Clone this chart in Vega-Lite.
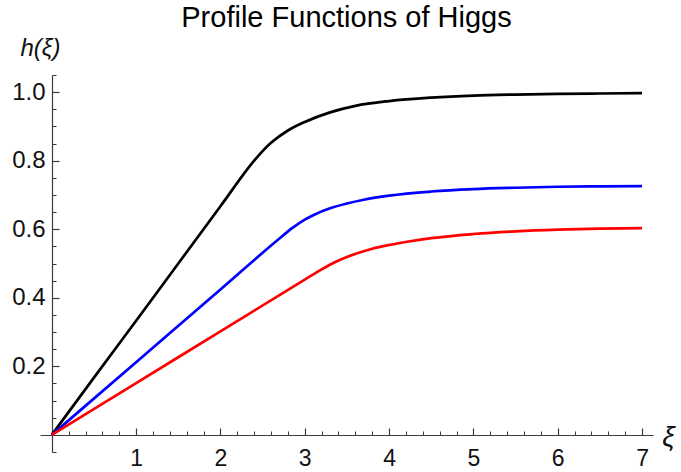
{
  "$schema": "https://vega.github.io/schema/vega-lite/v6.json",
  "width": 613,
  "height": 377,
  "autosize": "none",
  "padding": {"left": 40, "top": 75, "right": 28, "bottom": 20},
  "background": "white",
  "config": {"view": {"stroke": null}, "font": "Liberation Sans"},
  "title": {
    "text": "Profile Functions of Higgs",
    "fontSize": 29,
    "font": "Liberation Sans",
    "fontWeight": "normal",
    "color": "#000000",
    "anchor": "middle",
    "offset": 3
  },
  "data": {
    "values": [
      {"xi": 0, "h": 0, "s": "k"},
      {"xi": 0.5, "h": 0.167, "s": "k"},
      {"xi": 1, "h": 0.333, "s": "k"},
      {"xi": 1.5, "h": 0.5, "s": "k"},
      {"xi": 2, "h": 0.667, "s": "k"},
      {"xi": 2.4, "h": 0.8, "s": "k"},
      {"xi": 2.5, "h": 0.828, "s": "k"},
      {"xi": 2.6, "h": 0.852, "s": "k"},
      {"xi": 2.8, "h": 0.888, "s": "k"},
      {"xi": 3.0, "h": 0.913, "s": "k"},
      {"xi": 3.3, "h": 0.941, "s": "k"},
      {"xi": 3.6, "h": 0.96, "s": "k"},
      {"xi": 4.0, "h": 0.974, "s": "k"},
      {"xi": 4.5, "h": 0.984, "s": "k"},
      {"xi": 5.0, "h": 0.99, "s": "k"},
      {"xi": 5.5, "h": 0.993, "s": "k"},
      {"xi": 6.0, "h": 0.995, "s": "k"},
      {"xi": 6.5, "h": 0.996, "s": "k"},
      {"xi": 7.0, "h": 0.997, "s": "k"},
      {"xi": 0, "h": 0, "s": "b"},
      {"xi": 1, "h": 0.212, "s": "b"},
      {"xi": 2, "h": 0.424, "s": "b"},
      {"xi": 2.7, "h": 0.573, "s": "b"},
      {"xi": 2.85, "h": 0.603, "s": "b"},
      {"xi": 3.0, "h": 0.628, "s": "b"},
      {"xi": 3.1, "h": 0.641, "s": "b"},
      {"xi": 3.3, "h": 0.661, "s": "b"},
      {"xi": 3.5, "h": 0.675, "s": "b"},
      {"xi": 3.7, "h": 0.686, "s": "b"},
      {"xi": 4.0, "h": 0.698, "s": "b"},
      {"xi": 4.5, "h": 0.71, "s": "b"},
      {"xi": 5.0, "h": 0.717, "s": "b"},
      {"xi": 5.5, "h": 0.721, "s": "b"},
      {"xi": 6.0, "h": 0.724, "s": "b"},
      {"xi": 6.5, "h": 0.725, "s": "b"},
      {"xi": 7.0, "h": 0.726, "s": "b"},
      {"xi": 0, "h": 0, "s": "r"},
      {"xi": 1, "h": 0.151, "s": "r"},
      {"xi": 2, "h": 0.302, "s": "r"},
      {"xi": 3, "h": 0.453, "s": "r"},
      {"xi": 3.2, "h": 0.483, "s": "r"},
      {"xi": 3.35, "h": 0.503, "s": "r"},
      {"xi": 3.5, "h": 0.519, "s": "r"},
      {"xi": 3.65, "h": 0.532, "s": "r"},
      {"xi": 3.8, "h": 0.543, "s": "r"},
      {"xi": 4.0, "h": 0.554, "s": "r"},
      {"xi": 4.25, "h": 0.565, "s": "r"},
      {"xi": 4.5, "h": 0.574, "s": "r"},
      {"xi": 5.0, "h": 0.586, "s": "r"},
      {"xi": 5.5, "h": 0.594, "s": "r"},
      {"xi": 6.0, "h": 0.599, "s": "r"},
      {"xi": 6.5, "h": 0.602, "s": "r"},
      {"xi": 7.0, "h": 0.603, "s": "r"}
    ]
  },
  "layer": [
    {
      "mark": {"type": "line", "strokeWidth": 2.7, "interpolate": "monotone"},
      "encoding": {
        "x": {
          "field": "xi",
          "type": "quantitative",
          "scale": {"domain": [-0.14, 7.13], "nice": false, "zero": false},
          "axis": {
            "orient": "bottom",
            "offset": -17,
            "values": [1, 2, 3, 4, 5, 6, 7],
            "format": "d",
            "grid": false,
            "domainColor": "#3c3c3c",
            "domainWidth": 1.2,
            "tickColor": "#3c3c3c",
            "tickWidth": 1.2,
            "tickSize": -7,
            "labelPadding": 19,
            "labelFontSize": 23,
            "labelColor": "#111111",
            "labelFont": "Liberation Sans",
            "labelFlush": false,
            "labelOverlap": false,
            "title": "ξ",
            "titleFontSize": 28,
            "titleFontStyle": "italic",
            "titleFontWeight": "normal",
            "titleFont": "Liberation Sans",
            "titleColor": "#111111",
            "titleX": 628,
            "titleY": 2,
            "titleAlign": "center",
            "titleBaseline": "middle",
            "titleAngle": 0
          }
        },
        "y": {
          "field": "h",
          "type": "quantitative",
          "scale": {"domain": [-0.05, 1.05], "nice": false, "zero": false},
          "axis": {
            "orient": "left",
            "offset": -12,
            "values": [0.2, 0.4, 0.6, 0.8, 1.0],
            "format": ".1f",
            "grid": false,
            "domainColor": "#3c3c3c",
            "domainWidth": 1.2,
            "tickColor": "#3c3c3c",
            "tickWidth": 1.2,
            "tickSize": -7,
            "labelPadding": 14,
            "labelFontSize": 24,
            "labelColor": "#111111",
            "labelFont": "Liberation Sans",
            "labelFlush": false,
            "labelOverlap": false,
            "title": "h(ξ)",
            "titleFontSize": 24,
            "titleFontStyle": "italic",
            "titleFontWeight": "normal",
            "titleFont": "Liberation Sans",
            "titleColor": "#111111",
            "titleX": -12,
            "titleY": -27,
            "titleAlign": "center",
            "titleBaseline": "middle",
            "titleAngle": 0
          }
        },
        "color": {
          "field": "s",
          "type": "nominal",
          "scale": {"domain": ["k", "b", "r"], "range": ["#000000", "#0000ff", "#ff0000"]},
          "legend": null
        }
      }
    },
    {
      "mark": {"type": "line", "opacity": 0},
      "encoding": {
        "x": {
          "field": "xi",
          "type": "quantitative",
          "axis": {
            "orient": "bottom",
            "offset": -17,
            "values": [0.2, 0.4, 0.6, 0.8, 1.2, 1.4, 1.6, 1.8, 2.2, 2.4, 2.6, 2.8, 3.2, 3.4, 3.6, 3.8, 4.2, 4.4, 4.6, 4.8, 5.2, 5.4, 5.6, 5.8, 6.2, 6.4, 6.6, 6.8],
            "labels": false,
            "domain": false,
            "grid": false,
            "tickColor": "#3c3c3c",
            "tickWidth": 1,
            "tickSize": -4,
            "title": null
          }
        },
        "y": {
          "field": "h",
          "type": "quantitative",
          "axis": {
            "orient": "left",
            "offset": -12,
            "values": [-0.05, 0.05, 0.1, 0.15, 0.25, 0.3, 0.35, 0.45, 0.5, 0.55, 0.65, 0.7, 0.75, 0.85, 0.9, 0.95, 1.05],
            "labels": false,
            "domain": false,
            "grid": false,
            "tickColor": "#3c3c3c",
            "tickWidth": 1,
            "tickSize": -4,
            "title": null
          }
        },
        "detail": {"field": "s", "type": "nominal"}
      }
    }
  ],
  "resolve": {"axis": {"x": "independent", "y": "independent"}}
}
